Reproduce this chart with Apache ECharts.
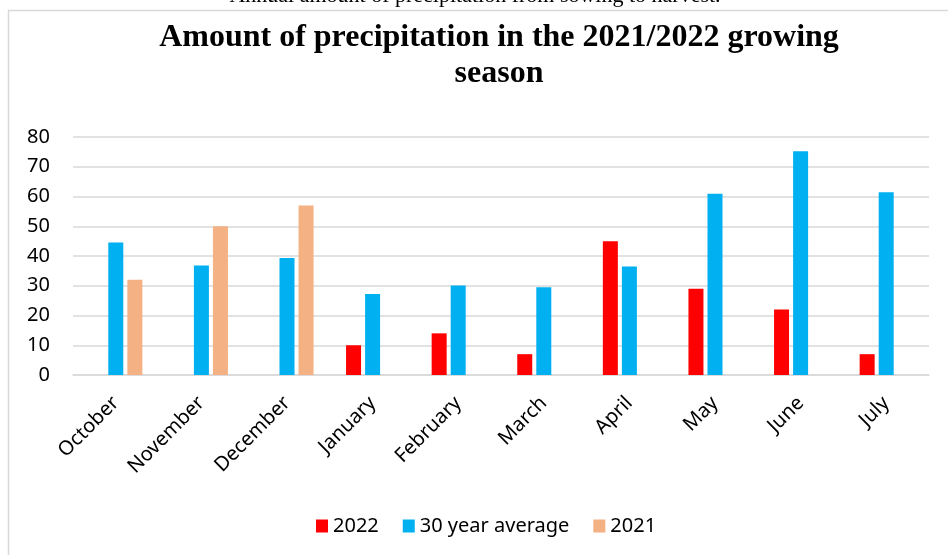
<!DOCTYPE html>
<html>
<head>
<meta charset="utf-8">
<script src="https://cdn.jsdelivr.net/npm/echarts@6/dist/echarts.min.js"></script>
<style>html,body{margin:0;padding:0;background:#fff;}#c{width:948px;height:555px;}</style>
</head>
<body>
<div id="c"></div>
<script>
var months = ['October','November','December','January','February','March','April','May','June','July'];
var y2022 = [null, null, null, 10, 14, 7, 45, 29, 22, 7];
var avg30 = [44.5, 36.8, 39.3, 27.2, 30.1, 29.5, 36.5, 60.9, 75.2, 61.4];
var y2021 = [32, 50, 57, null, null, null, null, null, null, null];
var yTicks = [0, 10, 20, 30, 40, 50, 60, 70, 80];

var chart = echarts.init(document.getElementById('c'), null, {renderer: 'canvas'});
var font = '"Noto Sans", "Open Sans", sans-serif';
chart.setOption({
  animation: false,
  backgroundColor: '#fff',
  graphic: [
    {type: 'rect', shape: {x: 8.5, y: 10.5, width: 1000, height: 600}, style: {fill: 'none', stroke: '#d9d9d9', lineWidth: 1.5}, z: -1},
    {type: 'text', x: 475, y: 7, style: {text: 'Annual amount of precipitation from sowing to harvest.', font: '22px "Liberation Serif", serif', fill: '#000', textAlign: 'center', textVerticalAlign: 'bottom'}}
  ],
  title: {
    text: 'Amount of precipitation in the 2021/2022 growing\nseason',
    left: 494, top: 15, textAlign: 'center',
    textStyle: {fontFamily: '"Liberation Serif", "Times New Roman", serif', fontWeight: 'bold', fontSize: 32, lineHeight: 36, color: '#000'}
  },
  legend: {
    bottom: 14, left: 311,
    itemWidth: 12, itemHeight: 13, itemGap: 24,
    icon: 'rect',
    textStyle: {fontFamily: font, fontSize: 20, color: '#000'},
    data: ['2022', '30 year average', '2021']
  },
  grid: {left: 73, right: 19, top: 137, bottom: 180},
  xAxis: {
    type: 'category', data: months,
    axisLine: {lineStyle: {color: '#d9d9d9', width: 1.5}},
    axisTick: {show: false},
    axisLabel: {rotate: 45, interval: 0, fontFamily: font, fontSize: 20, color: '#000', margin: 25}
  },
  yAxis: {
    type: 'value', min: 0, max: 80, interval: 10,
    axisLine: {show: false}, axisTick: {show: false},
    axisLabel: {fontFamily: font, fontSize: 20, color: '#000', margin: 23},
    splitLine: {lineStyle: {color: '#d9d9d9', width: 1.5}}
  },
  series: [
    {name: '2022', type: 'bar', data: y2022, barWidth: 15, barGap: '27%', itemStyle: {color: '#FF0000'}},
    {name: '30 year average', type: 'bar', data: avg30, barWidth: 15, barGap: '27%', itemStyle: {color: '#00B0F0'}},
    {name: '2021', type: 'bar', data: y2021, barWidth: 15, barGap: '27%', itemStyle: {color: '#F4B183'}}
  ]
});
</script>
</body>
</html>
